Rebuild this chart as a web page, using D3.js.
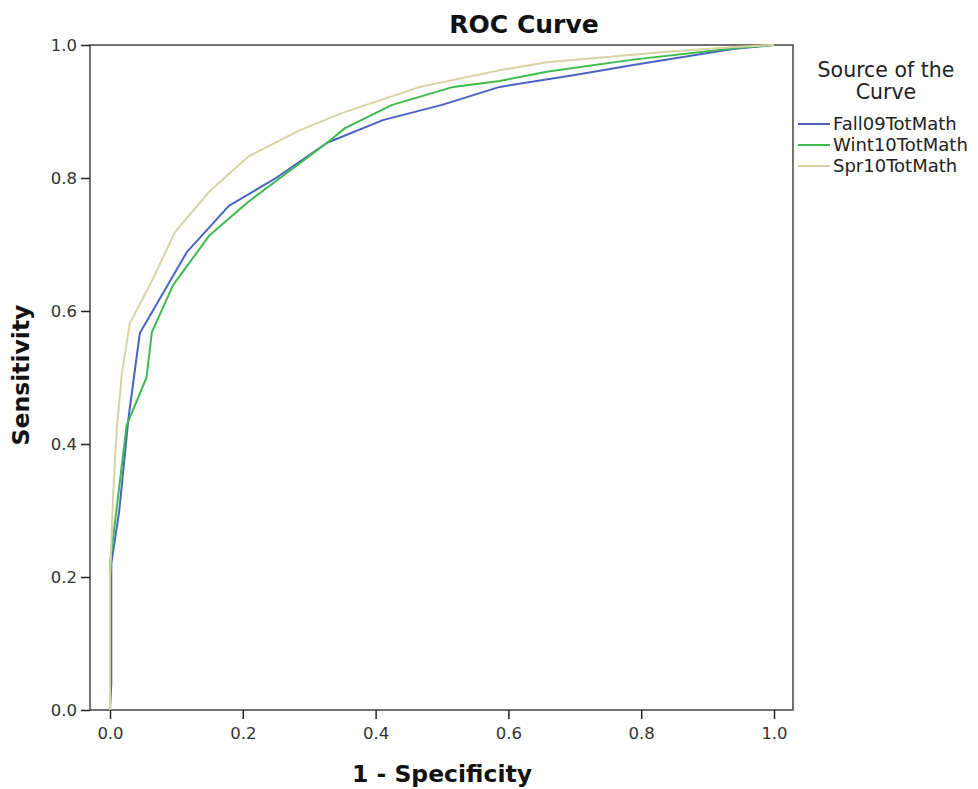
<!DOCTYPE html>
<html><head><meta charset="utf-8">
<script src="https://cdn.jsdelivr.net/npm/d3@7"></script>
<style>body{margin:0;background:#fff;}svg{display:block;}</style>
</head><body>
<svg id="c" width="978" height="789"></svg>
<script>
const seriesNames = ["Fall09TotMath", "Wint10TotMath", "Spr10TotMath"];
const seriesColors = ["#4a63c2", "#3dbb4d", "#d8d3a4"];
const xTicks = [0, 0.2, 0.4, 0.6, 0.8, 1.0];
const yTicks = [0, 0.2, 0.4, 0.6, 0.8, 1.0];
const fall09 = [[0,0],[0.002,0.04],[0.002,0.22],[0.014,0.30],[0.028,0.44],[0.036,0.50],[0.045,0.567],[0.116,0.689],[0.179,0.758],[0.25,0.80],[0.327,0.853],[0.411,0.887],[0.50,0.91],[0.587,0.937],[0.70,0.955],[0.788,0.970],[0.938,0.994],[1,1]];
const wint10 = [[0,0],[0,0.22],[0.025,0.428],[0.055,0.50],[0.063,0.568],[0.095,0.639],[0.15,0.714],[0.208,0.764],[0.327,0.853],[0.354,0.875],[0.425,0.91],[0.517,0.937],[0.587,0.946],[0.66,0.960],[0.788,0.978],[0.94,0.995],[1,1]];
const spr10 = [[0,0],[0,0.20],[0.005,0.33],[0.01,0.42],[0.018,0.507],[0.03,0.582],[0.06,0.639],[0.098,0.719],[0.15,0.78],[0.208,0.832],[0.286,0.872],[0.35,0.898],[0.422,0.922],[0.467,0.937],[0.587,0.962],[0.658,0.974],[0.839,0.990],[0.94,0.997],[1,1]];
const seriesData = [fall09, wint10, spr10];

const svg = d3.select("#c");
const x = d3.scaleLinear().domain([0,1]).range([110,774]);
const y = d3.scaleLinear().domain([0,1]).range([710,45]);
const font = "'DejaVu Sans', sans-serif";

// frame
svg.append("rect").attr("x",90).attr("y",45).attr("width",703).attr("height",665)
  .attr("fill","none").attr("stroke","#444").attr("stroke-width",1.5);

// axes
const xAxis = svg.append("g").attr("transform","translate(0,710)")
  .call(d3.axisBottom(x).tickValues(xTicks).tickFormat(d3.format(".1f")).tickSize(9).tickSizeOuter(0));
const yAxis = svg.append("g").attr("transform","translate(90,0)")
  .call(d3.axisLeft(y).tickValues(yTicks).tickFormat(d3.format(".1f")).tickSize(9).tickSizeOuter(0));
[xAxis,yAxis].forEach(a=>{
  a.select(".domain").remove();
  a.selectAll(".tick line").attr("stroke","#222").attr("stroke-width",1.5);
  a.selectAll(".tick text").attr("fill","#333").style("font-family",font).style("font-size","16.5px");
});
xAxis.selectAll(".tick text").attr("y",12).attr("dy","1em");
yAxis.selectAll(".tick text").attr("x",-13);

// lines
const line = d3.line().x(d=>x(d[0])).y(d=>y(d[1]));
seriesData.forEach((s,i)=>{
  svg.append("path").datum(s).attr("d",line).attr("fill","none")
    .attr("stroke",seriesColors[i]).attr("stroke-width",2).attr("stroke-linejoin","round");
});

// titles
svg.append("text").attr("x",524).attr("y",33).attr("text-anchor","middle")
  .style("font-family",font).style("font-weight","bold").style("font-size","25px").attr("fill","#111").text("ROC Curve");
svg.append("text").attr("x",442).attr("y",782).attr("text-anchor","middle")
  .style("font-family",font).style("font-weight","bold").style("font-size","23.5px").attr("fill","#111").text("1 - Specificity");
svg.append("text").attr("transform","translate(29,375) rotate(-90)").attr("text-anchor","middle")
  .style("font-family",font).style("font-weight","bold").style("font-size","23.5px").attr("fill","#111").text("Sensitivity");

// legend
svg.append("text").attr("x",886).attr("y",77).attr("text-anchor","middle")
  .style("font-family",font).style("font-size","20.5px").attr("fill","#222").text("Source of the");
svg.append("text").attr("x",886).attr("y",99).attr("text-anchor","middle")
  .style("font-family",font).style("font-size","20.5px").attr("fill","#222").text("Curve");
const legY = [124,145,166];
seriesNames.forEach((n,i)=>{
  svg.append("line").attr("x1",798).attr("x2",830).attr("y1",legY[i]).attr("y2",legY[i])
    .attr("stroke",seriesColors[i]).attr("stroke-width",2);
  svg.append("text").attr("x",833).attr("y",legY[i]+6)
    .style("font-family",font).style("font-size","18px").attr("fill","#222").text(n);
});
</script>
</body></html>
